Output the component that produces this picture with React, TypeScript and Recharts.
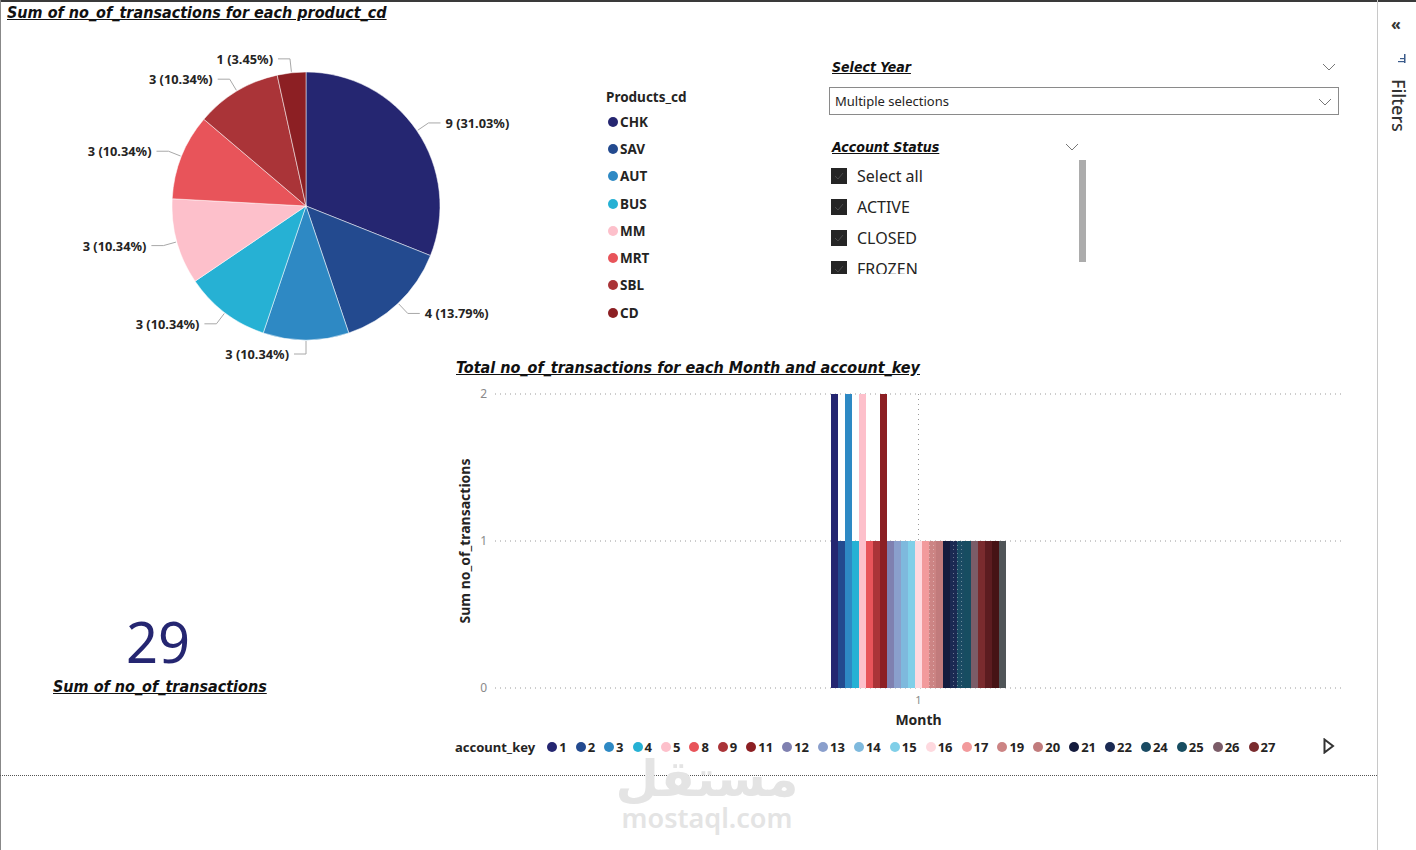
import React from "react";
import { Bar, BarChart, CartesianGrid, Cell, Pie, PieChart, XAxis, YAxis } from "recharts";

// product_cd breakdown
const PRODUCTS = ["CHK", "SAV", "AUT", "BUS", "MM", "MRT", "SBL", "CD"];
const PRODUCT_TX = [9, 4, 3, 3, 3, 3, 3, 1];
const PRODUCT_COLORS = ["#252671", "#234a8f", "#2e89c4", "#26b1d4", "#fdc0cb", "#e8545a", "#aa3438", "#8c1f23"];

// month x account_key breakdown
const MONTHS = ["1"];
const ACCOUNT_KEYS = ["1", "2", "3", "4", "5", "8", "9", "11", "12", "13", "14", "15", "16", "17", "19", "20", "21", "22", "24", "25", "26", "27", "28", "29", "30"];
const KEY_TX = [2, 1, 2, 1, 2, 1, 1, 2, 1, 1, 1, 1, 1, 1, 1, 1, 1, 1, 1, 1, 1, 1, 1, 1, 1];
const KEY_COLORS = [
  "#252671", "#234a8f", "#2e89c4", "#26b1d4", "#fdc0cb", "#e8545a", "#aa3438", "#8c1f23",
  "#7f80b0", "#8a9fcc", "#7eb9dd", "#80cfe8", "#fed9df", "#f29a9c", "#cc8484", "#c17b7c",
  "#141b3d", "#1b2a53", "#1a4b63", "#174d61", "#7b5c68", "#7a2b2e", "#5c1c20", "#461315", "#505558",
];
const DOTTED_KEYS = ["19", "22", "24"];
const LEGEND_SHOWN = 22;

const Y_TICKS = [0, 1, 2];

const TOTAL = PRODUCT_TX.reduce((a, b) => a + b, 0);

const pieData = PRODUCTS.map((name, i) => ({ name, value: PRODUCT_TX[i] }));
const barData = MONTHS.map((month) => {
  const row: Record<string, string | number> = { month };
  ACCOUNT_KEYS.forEach((k, i) => {
    row["k" + k] = KEY_TX[i];
  });
  return row;
});

const TITLE_FONT = "'DejaVu Sans Condensed', 'DejaVu Sans', sans-serif";
const UI_FONT = "'Noto Sans', 'Open Sans', sans-serif";

const titleStyle: React.CSSProperties = {
  position: "absolute",
  fontFamily: TITLE_FONT,
  fontWeight: 700,
  fontStyle: "italic",
  textDecoration: "underline",
  color: "#111",
  whiteSpace: "nowrap",
};

const RAD = Math.PI / 180;

function PieLabel(p: any) {
  const { cx, cy, midAngle, outerRadius, value } = p;
  const cos = Math.cos(-midAngle * RAD);
  const sin = Math.sin(-midAngle * RAD);
  const sx = cx + (outerRadius + 1) * cos;
  const sy = cy + (outerRadius + 1) * sin;
  const mx = cx + (outerRadius + 14) * cos;
  const my = cy + (outerRadius + 14) * sin;
  const right = cos > 0.001;
  const ex = mx + (right ? 12 : -12);
  const pct = ((value / TOTAL) * 100).toFixed(2);
  return (
    <g>
      <polyline points={`${sx},${sy} ${mx},${my} ${ex},${my}`} fill="none" stroke="#a8a8a8" strokeWidth={1} />
      <text
        x={ex + (right ? 5 : -5)}
        y={my}
        textAnchor={right ? "start" : "end"}
        dominantBaseline="central"
        fontFamily={UI_FONT}
        fontWeight={700}
        fontSize={12.8}
        fill="#252423"
      >
        {`${value} (${pct}%)`}
      </text>
    </g>
  );
}

function YLabel(p: any) {
  const { x, y, height } = p.viewBox;
  const lx = x + 24;
  const ly = y + height / 2;
  return (
    <text
      x={lx}
      y={ly}
      transform={`rotate(-90 ${lx} ${ly})`}
      textAnchor="middle"
      dominantBaseline="central"
      fontFamily={UI_FONT}
      fontWeight={700}
      fontSize={14}
      fill="#252423"
    >
      Sum no_of_transactions
    </text>
  );
}

function Chevron({ x, y }: { x: number; y: number }) {
  return (
    <svg style={{ position: "absolute", left: x, top: y }} width={14} height={8}>
      <polyline points="1,1 7,7 13,1" fill="none" stroke="#777" strokeWidth={1} />
    </svg>
  );
}

const STATUS = ["Select all", "ACTIVE", "CLOSED", "FROZEN"];

export default function App() {
  return (
    <div style={{ position: "relative", width: 1416, height: 850, background: "#fff", overflow: "hidden" }}>
      <style>{"body{margin:0}"}</style>

      {/* frame */}
      <div style={{ position: "absolute", left: 0, top: 0, width: 1416, height: 2, background: "#3a3a3a" }} />
      <div style={{ position: "absolute", left: 0, top: 0, width: 1, height: 850, background: "#888" }} />
      <div style={{ position: "absolute", left: 1377, top: 0, width: 1, height: 850, background: "#c8c8c8" }} />
      <div style={{ position: "absolute", left: 0, top: 775, width: 1377, height: 0, borderTop: "1px dotted #555" }} />

      {/* watermark */}
      <div style={{ position: "absolute", left: 557, top: 759, width: 300, textAlign: "center", fontFamily: "'DejaVu Sans', sans-serif", fontWeight: 700, fontSize: 50, color: "#e4e4e4", lineHeight: "40px" }}>
        مستقل
      </div>
      <div style={{ position: "absolute", left: 557, top: 803, width: 300, textAlign: "center", fontFamily: UI_FONT, fontWeight: 600, fontSize: 27, color: "#e4e4e4", lineHeight: "30px" }}>
        mostaql.com
      </div>

      {/* pie */}
      <div style={{ ...titleStyle, left: 7, top: 3, fontSize: 16 }}>Sum of no_of_transactions for each product_cd</div>
      <div style={{ position: "absolute", left: 0, top: 0 }}>
        <PieChart width={600} height={400} margin={{ top: 0, right: 0, bottom: 0, left: 0 }}>
          <Pie
            data={pieData}
            dataKey="value"
            nameKey="name"
            cx={306}
            cy={206}
            outerRadius={134}
            startAngle={90}
            endAngle={-270}
            stroke="rgba(255,255,255,0.5)"
            strokeWidth={1}
            label={PieLabel}
            labelLine={false}
            isAnimationActive={false}
          >
            {pieData.map((d, i) => (
              <Cell key={d.name} fill={PRODUCT_COLORS[i]} />
            ))}
          </Pie>
        </PieChart>
      </div>

      {/* pie legend */}
      <div style={{ position: "absolute", left: 606, top: 88, fontFamily: UI_FONT, fontSize: 13.5, fontWeight: 700, color: "#252423" }}>
        <div style={{ height: 20 }}>Products_cd</div>
        {PRODUCTS.map((p, i) => (
          <div key={p} style={{ display: "flex", alignItems: "center", height: 27.3, marginLeft: 2 }}>
            <span style={{ width: 10, height: 10, borderRadius: 5, background: PRODUCT_COLORS[i], marginRight: 2 }} />
            {p}
          </div>
        ))}
      </div>

      {/* card */}
      <div style={{ position: "absolute", left: 58, top: 605, width: 200, textAlign: "center", fontFamily: UI_FONT, fontSize: 56, color: "#252671", lineHeight: "72px" }}>
        {TOTAL}
      </div>
      <div style={{ ...titleStyle, left: 53, top: 677, fontSize: 16 }}>Sum of no_of_transactions</div>

      {/* slicers */}
      <div style={{ ...titleStyle, left: 832, top: 59, fontSize: 14 }}>Select Year</div>
      <Chevron x={1322} y={63} />
      <div style={{ position: "absolute", left: 829, top: 87, width: 503, height: 26, border: "1px solid #8a8a8a", fontFamily: UI_FONT, fontSize: 13, color: "#252423", lineHeight: "26px", paddingLeft: 5 }}>
        Multiple selections
      </div>
      <Chevron x={1318} y={98} />
      <div style={{ ...titleStyle, left: 832, top: 139, fontSize: 14 }}>Account Status</div>
      <Chevron x={1065} y={143} />
      <div style={{ position: "absolute", left: 829, top: 160, width: 240, height: 114, overflow: "hidden", fontFamily: UI_FONT, fontSize: 16, color: "#252423" }}>
        {STATUS.map((s) => (
          <div key={s} style={{ display: "flex", alignItems: "center", height: 31 }}>
            <svg width={16} height={16} style={{ marginLeft: 2, marginRight: 10 }}>
              <rect width={16} height={16} fill="#252525" />
              <polyline points="4,8 7,11 12,5" fill="none" stroke="#4a4a4a" strokeWidth={1} />
            </svg>
            {s}
          </div>
        ))}
      </div>
      <div style={{ position: "absolute", left: 1079, top: 160, width: 7, height: 102, background: "#acacac" }} />

      {/* bar chart */}
      <div style={{ ...titleStyle, left: 456, top: 358, fontSize: 16 }}>Total no_of_transactions for each Month and account_key</div>
      <div style={{ position: "absolute", left: 440, top: 380 }}>
        <BarChart width={910} height={350} data={barData} margin={{ top: 14, right: 8, left: 0, bottom: 2 }} barGap={0}>
          <defs>
            {DOTTED_KEYS.map((k) => {
              const c = KEY_COLORS[ACCOUNT_KEYS.indexOf(k)];
              return (
                <pattern key={k} id={"dots" + k} width={4} height={4} patternUnits="userSpaceOnUse">
                  <rect width={4} height={4} fill={c} />
                  <rect x={1} y={1} width={1} height={1} fill="rgba(255,255,255,0.35)" />
                </pattern>
              );
            })}
          </defs>
          <CartesianGrid stroke="#9a9a9a" strokeDasharray="1 4" syncWithTicks />
          <XAxis
            dataKey="month"
            height={40}
            tickLine={false}
            axisLine={false}
            tick={{ fontSize: 11, fill: "#8a8a8a", fontFamily: UI_FONT }}
            tickMargin={2}
            label={{ value: "Month", position: "insideBottom", offset: 3, fontSize: 14, fontWeight: 700, fill: "#252423", fontFamily: UI_FONT }}
          />
          <YAxis
            width={55}
            domain={[0, 2]}
            ticks={Y_TICKS}
            tickLine={false}
            axisLine={false}
            tick={{ fontSize: 12, fill: "#8a8a8a", fontFamily: UI_FONT }}
            label={<YLabel />}
          />
          {ACCOUNT_KEYS.map((k, i) => (
            <Bar
              key={k}
              dataKey={"k" + k}
              barSize={7}
              fill={DOTTED_KEYS.includes(k) ? `url(#dots${k})` : KEY_COLORS[i]}
              isAnimationActive={false}
            />
          ))}
        </BarChart>
      </div>

      {/* bar legend */}
      <div style={{ position: "absolute", left: 455, top: 737, height: 20, display: "flex", alignItems: "center", fontFamily: UI_FONT, fontSize: 13, fontWeight: 700, color: "#252423", whiteSpace: "nowrap" }}>
        <span style={{ marginRight: 12 }}>account_key</span>
        {ACCOUNT_KEYS.slice(0, LEGEND_SHOWN).map((k, i) => (
          <span key={k} style={{ display: "flex", alignItems: "center", marginRight: 9 }}>
            <span style={{ width: 10, height: 10, borderRadius: 5, background: KEY_COLORS[i], marginRight: 2 }} />
            {k}
          </span>
        ))}
      </div>
      <svg style={{ position: "absolute", left: 1323, top: 738 }} width={12} height={16}>
        <polygon points="1.5,1.5 10,8 1.5,14.5" fill="#fff" stroke="#333" strokeWidth={2} />
      </svg>

      {/* filters pane */}
      <div style={{ position: "absolute", left: 1391, top: 13, fontFamily: UI_FONT, fontSize: 16, fontWeight: 700, color: "#333" }}>«</div>
      <svg style={{ position: "absolute", left: 1397, top: 54 }} width={10} height={12}>
        <rect x={7} y={0} width={1.5} height={9} fill="#3a5a8a" />
        <rect x={3} y={4} width={5} height={1.2} fill="#3a5a8a" />
        <rect x={1} y={7} width={7} height={1.2} fill="#3a5a8a" />
      </svg>
      <div style={{ position: "absolute", left: 1387, top: 79, writingMode: "vertical-rl", fontFamily: UI_FONT, fontSize: 18, fontWeight: 500, color: "#333" }}>
        Filters
      </div>
    </div>
  );
}
